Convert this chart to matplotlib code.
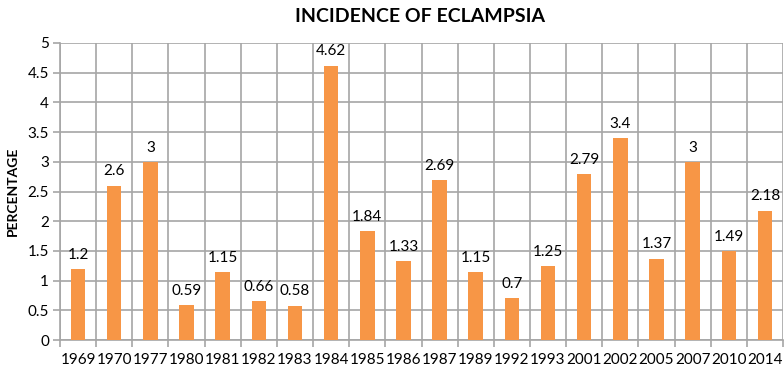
import matplotlib.pyplot as plt
import numpy as np

plt.rcParams['font.family'] = ['Lato', 'DejaVu Sans']

years = ['1969', '1970', '1977', '1980', '1981', '1982', '1983', '1984', '1985', '1986',
         '1987', '1989', '1992', '1993', '2001', '2002', '2005', '2007', '2010', '2014']
incidence = [1.2, 2.6, 3, 0.59, 1.15, 0.66, 0.58, 4.62, 1.84, 1.33,
             2.69, 1.15, 0.7, 1.25, 2.79, 3.4, 1.37, 3, 1.49, 2.18]
labels = ['1.2', '2.6', '3', '0.59', '1.15', '0.66', '0.58', '4.62', '1.84', '1.33',
          '2.69', '1.15', '0.7', '1.25', '2.79', '3.4', '1.37', '3', '1.49', '2.18']

GRID = '#a6a6a6'

fig = plt.figure(figsize=(7.84, 3.72), dpi=100)
ax = fig.add_axes([60 / 784, 1 - 340 / 372, 723 / 784, 297 / 372])

x = np.arange(len(years))
ax.bar(x, incidence, width=0.4, color='#F79646', zorder=3)
for xi, v, t in zip(x, incidence, labels):
    ax.text(xi, v + 0.12, t, ha='center', va='bottom', fontsize=11, color='black')

ax.set_xlim(-0.5, len(years) - 0.5)
ax.set_ylim(0, 5)
ax.set_yticks(np.arange(0, 5.01, 0.5))
ax.set_yticklabels(['0', '0.5', '1', '1.5', '2', '2.5', '3', '3.5', '4', '4.5', '5'])
ax.set_xticks(x)
ax.set_xticklabels(years)
ax.set_xticks(np.arange(-0.5, len(years)), minor=True)

ax.grid(axis='y', color=GRID, linewidth=1.2, zorder=0)
ax.grid(axis='x', which='minor', color=GRID, linewidth=1.2, zorder=0)
ax.tick_params(axis='x', which='major', length=0, labelsize=11, pad=9)
ax.tick_params(axis='x', which='minor', length=5, color=GRID, width=1.2)
ax.tick_params(axis='y', length=5, color=GRID, width=1.2, labelsize=11, pad=3)

for s in ['top', 'right']:
    ax.spines[s].set_visible(False)
ax.spines['left'].set_color(GRID)
ax.spines['bottom'].set_color(GRID)
ax.spines['left'].set_linewidth(1.2)
ax.spines['bottom'].set_linewidth(1.2)

ax.set_ylabel('PERCENTAGE', fontsize=10, fontweight='bold', labelpad=6)
fig.text(420 / 784, 1 - 16 / 372, 'INCIDENCE OF ECLAMPSIA', ha='center', va='center',
         fontsize=14, fontweight='bold')

fig.savefig('out.png', dpi=100)
